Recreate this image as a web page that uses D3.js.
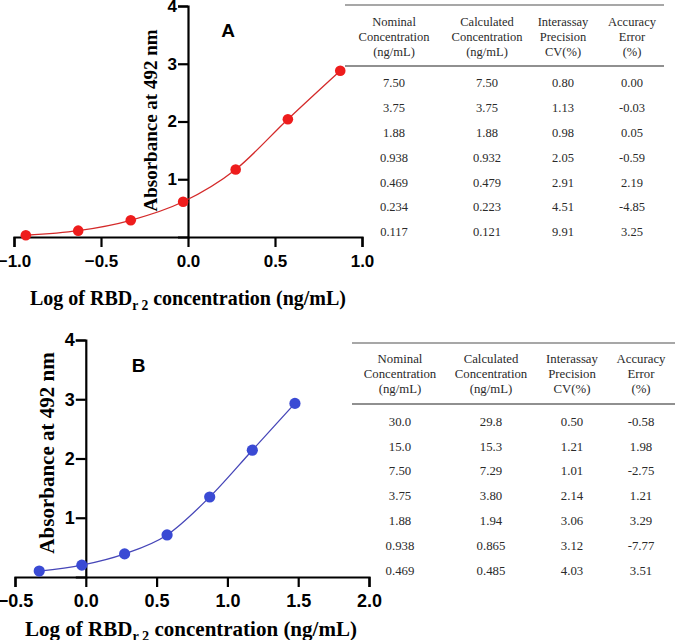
<!DOCTYPE html>
<html><head><meta charset="utf-8">
<script src="https://cdn.jsdelivr.net/npm/d3@7"></script>
<style>body{margin:0;background:#fff}svg{display:block}</style>
</head><body>
<svg id="c" width="677" height="640"></svg>
<script>
// Panel A data
const logConcA = [-0.932, -0.631, -0.329, -0.028, 0.274, 0.574, 0.875];
const absA = [0.03, 0.11, 0.29, 0.61, 1.17, 2.04, 2.88];
// Panel B data
const logConcB = [-0.329, -0.028, 0.274, 0.574, 0.875, 1.176, 1.477];
const absB = [0.10, 0.20, 0.39, 0.71, 1.35, 2.14, 2.93];

const xTicksA = [-1.0, -0.5, 0.0, 0.5, 1.0];
const xTicksB = [-0.5, 0.0, 0.5, 1.0, 1.5, 2.0];
const yTicks = [1, 2, 3, 4];

const tableHeader = [["Nominal","Concentration","(ng/mL)"],["Calculated","Concentration","(ng/mL)"],["Interassay","Precision","CV(%)"],["Accuracy","Error","(%)"]];
const nominalA = ["7.50","3.75","1.88","0.938","0.469","0.234","0.117"];
const calculatedA = ["7.50","3.75","1.88","0.932","0.479","0.223","0.121"];
const cvA = ["0.80","1.13","0.98","2.05","2.91","4.51","9.91"];
const errorA = ["0.00","-0.03","0.05","-0.59","2.19","-4.85","3.25"];
const nominalB = ["30.0","15.0","7.50","3.75","1.88","0.938","0.469"];
const calculatedB = ["29.8","15.3","7.29","3.80","1.94","0.865","0.485"];
const cvB = ["0.50","1.21","1.01","2.14","3.06","3.12","4.03"];
const errorB = ["-0.58","1.98","-2.75","1.21","3.29","-7.77","3.51"];

const svg = d3.select("#c");

function panel(cfg){
  const g = svg.append("g");
  const x = d3.scaleLinear().domain(cfg.xDomain).range(cfg.xRange);
  const y = d3.scaleLinear().domain([0,4]).range(cfg.yRange);
  // x axis
  const xa = g.append("g").attr("transform",`translate(0,${cfg.yRange[0]})`)
    .call(d3.axisBottom(x).tickValues(cfg.xTicks).tickFormat(d3.format(".1f")).tickSizeOuter(0).tickSize(10).tickPadding(4));
  xa.select(".domain").attr("stroke","#000").attr("stroke-width",2.2);
  xa.selectAll(".tick line").attr("stroke","#000").attr("stroke-width",2.2);
  xa.selectAll(".tick text").attr("font-family","Liberation Sans, Arial, sans-serif").attr("font-weight","bold")
    .attr("font-size",cfg.tickFont).attr("fill","#000").attr("dy",cfg.tickDy);
  // y axis
  const ya = g.append("g").attr("transform",`translate(${x(0)},0)`)
    .call(d3.axisLeft(y).tickValues(cfg.yTicks).tickFormat(d3.format("d")).tickSizeOuter(0).tickSize(10).tickPadding(1));
  ya.select(".domain").attr("stroke","#000").attr("stroke-width",2.2);
  ya.selectAll(".tick line").attr("stroke","#000").attr("stroke-width",2.2);
  ya.selectAll(".tick text").attr("font-family","Liberation Sans, Arial, sans-serif").attr("font-weight","bold")
    .attr("font-size",cfg.tickFont).attr("fill","#000");
  // curve
  const pts = cfg.xs.map((v,i)=>[v,cfg.ys[i]]);
  g.append("path").datum(pts).attr("fill","none").attr("stroke",cfg.lineColor).attr("stroke-width",1.3)
    .attr("d", d3.line().x(d=>x(d[0])).y(d=>y(d[1])).curve(d3.curveMonotoneX));
  g.selectAll("circle.pt").data(pts).join("circle").attr("class","pt")
    .attr("cx",d=>x(d[0])).attr("cy",d=>y(d[1])).attr("r",cfg.r).attr("fill",cfg.dotColor);
  // panel letter
  g.append("text").attr("x",cfg.letterPos[0]).attr("y",cfg.letterPos[1]).text(cfg.letter)
    .attr("font-family","Liberation Sans, Arial, sans-serif").attr("font-weight","bold").attr("font-size",19).attr("text-anchor","middle");
  // y label
  g.append("text").attr("transform",`translate(${cfg.yLab[0]},${cfg.yLab[1]}) rotate(-90)`)
    .attr("text-anchor","middle").attr("font-family","Liberation Serif, Times New Roman, serif").attr("font-weight","bold")
    .attr("font-size",cfg.yLabFont).text("Absorbance at 492 nm");
  // x label
  const xl = g.append("text").attr("x",cfg.xLab[0]).attr("y",cfg.xLab[1]).attr("text-anchor","middle")
    .attr("font-family","Liberation Serif, Times New Roman, serif").attr("font-weight","bold").attr("font-size",cfg.xLabFont);
  xl.append("tspan").text("Log of RBD");
  xl.append("tspan").attr("font-size",cfg.xLabFont*0.68).attr("dy",5).text("r 2");
  xl.append("tspan").attr("dy",-5).text(" concentration (ng/mL)");

  // table
  const t = svg.append("g").attr("font-family","Liberation Serif, Times New Roman, serif").attr("fill","#2a2a2a").attr("font-size",cfg.tFont);
  t.append("line").attr("x1",cfg.tX[0]).attr("x2",cfg.tX[1]).attr("y1",cfg.tTop).attr("y2",cfg.tTop).attr("stroke","#8a8a8a").attr("stroke-width",1.6);
  t.append("line").attr("x1",cfg.tX[0]).attr("x2",cfg.tX[1]).attr("y1",cfg.tHead).attr("y2",cfg.tHead).attr("stroke","#222").attr("stroke-width",1.2);
  tableHeader.forEach((lines,ci)=>{
    lines.forEach((s,li)=>{
      t.append("text").attr("x",cfg.cols[ci]).attr("y",cfg.hY[li]+4).attr("text-anchor","middle").text(s);
    });
  });
  cfg.rows.forEach((col,ci)=>{
    col.forEach((s,ri)=>{
      t.append("text").attr("x",cfg.cols[ci]).attr("y",cfg.rY0 + ri*cfg.rStep + 4).attr("text-anchor","middle").text(s);
    });
  });
}

panel({
  xDomain:[-1,1], xRange:[14,362], yRange:[237,6], xTicks:xTicksA, yTicks:yTicks,
  xs:logConcA, ys:absA, lineColor:"#d42a2a", dotColor:"#ee1c1c", r:5.3,
  tickFont:17, tickDy:"0.95em", letter:"A", letterPos:[228,37],
  yLab:[157,120.5], yLabFont:19, xLab:[188,305], xLabFont:20,
  tFont:12.5, tX:[345,664], tTop:5, tHead:66, cols:[394,487,563,632], hY:[21.7,36.5,51.7],
  rows:[nominalA,calculatedA,cvA,errorA], rY0:83.3, rStep:24.8
});
panel({
  xDomain:[-0.5,2], xRange:[15,369], yRange:[577,340], xTicks:xTicksB, yTicks:yTicks,
  xs:logConcB, ys:absB, lineColor:"#4646b8", dotColor:"#3a4ad4", r:5.6,
  tickFont:18, tickDy:"0.9em", letter:"B", letterPos:[138.5,372],
  yLab:[54,453], yLabFont:21, xLab:[191,636], xLabFont:21,
  tFont:12.8, tX:[352,675], tTop:343, tHead:404, cols:[400,491,572,641], hY:[359.3,374.3,389.3],
  rows:[nominalB,calculatedB,cvB,errorB], rY0:421.7, rStep:24.8
});
</script>
</body></html>
